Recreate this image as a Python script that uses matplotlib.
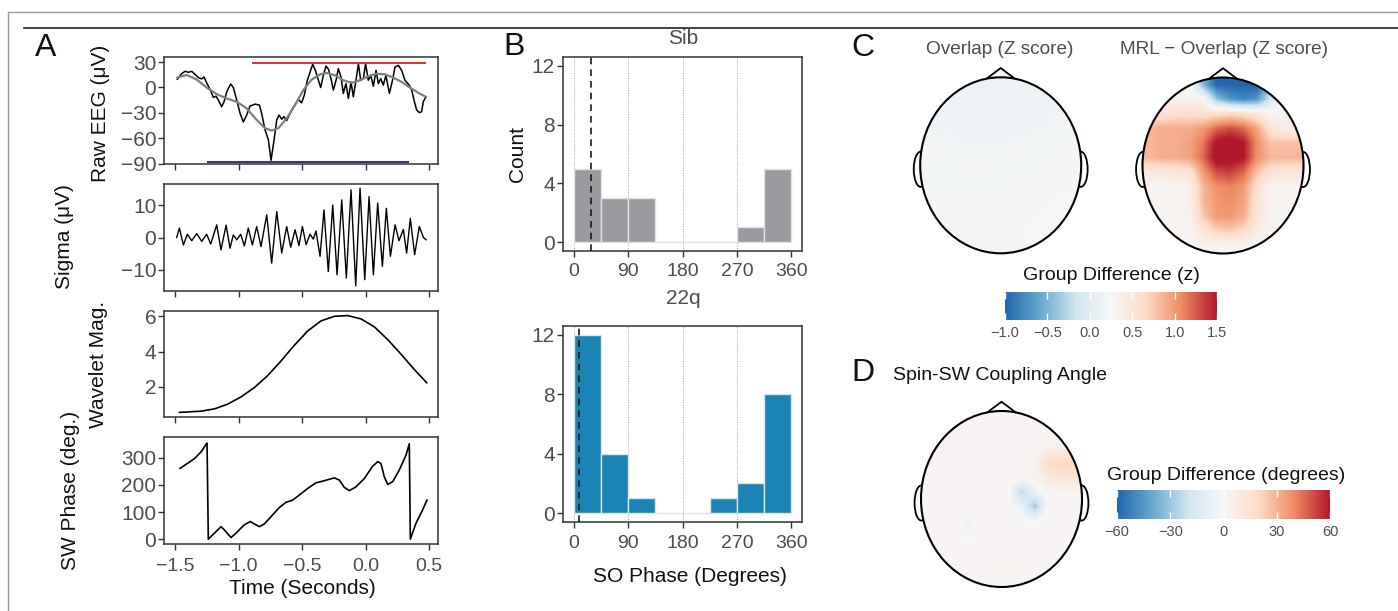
import matplotlib
matplotlib.use("Agg")
import numpy as np
import matplotlib.pyplot as plt
import matplotlib.cm as cm
from matplotlib.colors import LinearSegmentedColormap, Normalize
from matplotlib.lines import Line2D
from matplotlib.patches import Circle, Ellipse, Polygon

plt.rcParams['font.family'] = ['Liberation Sans', 'DejaVu Sans']

W, H = 1398, 611
GREY = '#4d4d4d'
DARK = '#333333'

# ---------------- panel A: example event ----------------
eeg_t = [-1.482, -1.448, -1.421, -1.395, -1.369, -1.343, -1.316, -1.290, -1.272, -1.251,
         -1.224, -1.198, -1.177, -1.159, -1.133, -1.114, -1.093, -1.062, -1.041, -1.014,
         -0.988, -0.962, -0.936, -0.909, -0.870, -0.836, -0.818, -0.791, -0.765, -0.744,
         -0.720, -0.699, -0.681, -0.660, -0.642, -0.621, -0.594, -0.563, -0.529, -0.503,
         -0.482, -0.458, -0.432, -0.416, -0.395, -0.371, -0.353, -0.332, -0.311, -0.290,
         -0.272, -0.253, -0.232, -0.214, -0.193, -0.175, -0.154, -0.135, -0.114, -0.096,
         -0.075, -0.056, -0.038, -0.017, 0.001, 0.022, 0.041, 0.062, 0.083, 0.101,
         0.120, 0.140, 0.161, 0.188, 0.214, 0.232, 0.259, 0.285, 0.311, 0.345,
         0.364, 0.382, 0.403, 0.424, 0.442, 0.455, 0.476]
eeg_uv = [9.7, 16.3, 19.1, 17.9, 19.1, 15.5, 11.6, 10.1, 12.4, 5.4,
          -2.5, -11.8, -10.3, -15.0, -22.8, -16.9, -5.2, 4.2, -0.1, -15.0,
          -30.6, -40.8, -32.6, -22.0, -19.7, -20.8, -30.6, -50.2, -61.9, -86.1,
          -61.9, -38.4, -32.6, -37.6, -34.5, -39.2, -30.6, -22.0, -14.2, -18.1,
          -9.1, 8.5, 20.2, 27.3, 20.2, 8.5, -0.1, 14.4, 25.3, 21.0,
          10.5, -3.2, 8.5, 22.2, 12.4, -7.1, 4.6, -13.0, 6.5, -11.1,
          8.5, 28.0, 8.5, 10.5, 28.0, 8.5, 14.4, 1.5, 20.2, 4.6,
          10.5, 2.6, 14.4, -7.1, 9.3, 24.1, 26.1, 20.2, 8.5, 2.6,
          -3.2, -15.0, -26.7, -29.8, -28.7, -16.9, -11.1]

slow_t = [-1.482, -1.408, -1.329, -1.251, -1.172, -1.093, -1.014, -0.936, -0.857, -0.791,
          -0.739, -0.686, -0.621, -0.555, -0.490, -0.424, -0.358, -0.306, -0.240, -0.175,
          -0.109, -0.043, 0.022, 0.088, 0.154, 0.219, 0.285, 0.350, 0.416, 0.476]
slow_uv = [11.6, 14.8, 9.3, -0.1, -7.9, -13.0, -16.9, -24.7, -38.4, -48.2,
           -50.9, -48.2, -36.5, -20.8, -3.2, 9.3, 15.5, 17.1, 14.4, 8.5,
           5.4, 8.5, 13.2, 16.3, 15.5, 11.6, 6.5, -0.1, -6.4, -11.1]

hi_level, hi_span = 28.5, (-0.89, 0.475)
lo_level, lo_span = -88.0, (-1.25, 0.345)

sigma_t = [-1.487, -1.466, -1.434, -1.403, -1.369, -1.329, -1.290, -1.251, -1.219, -1.172,
           -1.138, -1.098, -1.067, -1.041, -1.014, -0.983, -0.954, -0.923, -0.891, -0.857,
           -0.823, -0.778, -0.739, -0.699, -0.660, -0.621, -0.589, -0.555, -0.524, -0.497,
           -0.468, -0.437, -0.411, -0.390, -0.358, -0.327, -0.293, -0.258, -0.224, -0.187,
           -0.151, -0.114, -0.077, -0.043, -0.006, 0.028, 0.062, 0.096, 0.133, 0.164,
           0.196, 0.233, 0.264, 0.298, 0.324, 0.353, 0.387, 0.424, 0.456, 0.477]
sigma_uv = [0.0, 2.9, -2.3, 1.0, -1.0, 1.2, -1.2, 1.0, -2.0, 3.9,
            -3.8, 3.8, -3.3, 0.8, -0.7, 1.0, -2.6, 2.9, -2.3, 3.4,
            -2.8, 7.0, -7.9, 8.0, -4.8, 3.4, -3.0, 2.4, -2.5, 3.4,
            -2.2, 1.0, -0.5, 2.0, -5.8, 8.5, -10.5, 10.0, -11.5, 11.6,
            -12.5, 14.7, -14.9, 15.2, -13.0, 12.6, -11.5, 10.6, -8.9, 9.0,
            -5.8, 3.9, -1.0, 2.5, -4.8, 5.9, -5.3, 3.4, 0.0, -0.7]

wav_t = [-1.466, -1.295, -1.190, -1.085, -0.980, -0.875, -0.770, -0.665, -0.560, -0.455,
         -0.350, -0.245, -0.140, -0.035, 0.070, 0.175, 0.280, 0.385, 0.482]
wav_mag = [0.55, 0.62, 0.75, 1.02, 1.43, 1.96, 2.64, 3.47, 4.36, 5.17,
           5.74, 6.00, 6.04, 5.85, 5.40, 4.68, 3.85, 2.98, 2.23]

phase_t = [-1.461, -1.348, -1.295, -1.248, -1.238, -1.190, -1.138, -1.112, -1.059, -1.020,
           -0.954, -0.907, -0.875, -0.836, -0.797, -0.744, -0.678, -0.626, -0.573, -0.521,
           -0.455, -0.390, -0.337, -0.285, -0.245, -0.206, -0.167, -0.127, -0.075, -0.009,
           0.056, 0.096, 0.122, 0.148, 0.175, 0.214, 0.266, 0.319, 0.345, 0.353,
           0.398, 0.450, 0.484]
phase_deg = [261, 297, 322, 355, 0, 22, 46, 34, 6, 22,
             53, 65, 56, 46, 56, 83, 117, 136, 144, 163,
             187, 208, 214, 221, 226, 218, 191, 179, 193, 224,
             269, 286, 279, 230, 202, 212, 255, 310, 352, 0,
             59, 108, 144]

time_ticks = [-1.5, -1.0, -0.5, 0.0, 0.5]

# ---------------- panel B: SO phase histograms ----------------
bin_edges = [0, 45, 90, 135, 180, 225, 270, 315, 360]
sib_counts = [5, 3, 3, 0, 0, 0, 1, 5]
q22_counts = [12, 4, 1, 0, 0, 1, 2, 8]
sib_mean = 28
q22_mean = 8
phase_ticks = [0, 90, 180, 270, 360]
count_ticks = [0, 4, 8, 12]

# ---------------- panels C/D: topographies (coarse grid, top row = front) ----------------
overlap_z = [[0.16, 0.14, 0.14, 0.17],
             [0.19, 0.18, 0.19, 0.21],
             [0.21, 0.21, 0.22, 0.23],
             [0.23, 0.22, 0.23, 0.24]]

mrl_z = [[0.3, 0.3, 0.3, 0.3, -0.5, -1.0, -1.0, -1.0, -1.0, -0.4, 0.3, 0.3],
         [0.3, 0.3, 0.3, 0.3, 0.3, -0.4, -0.7, -0.8, -0.7, -0.1, 0.3, 0.3],
         [0.55, 0.55, 0.6, 0.6, 0.55, 0.6, 0.65, 0.6, 0.45, 0.3, 0.3, 0.3],
         [0.85, 0.9, 0.9, 0.9, 1.0, 1.2, 1.3, 1.2, 0.95, 0.55, 0.4, 0.4],
         [0.85, 0.9, 0.9, 0.95, 1.15, 1.55, 1.6, 1.5, 1.05, 0.8, 0.8, 0.8],
         [0.85, 0.9, 0.9, 0.95, 1.2, 1.6, 1.6, 1.5, 1.05, 0.85, 0.85, 0.85],
         [0.45, 0.45, 0.5, 0.55, 1.0, 1.3, 1.35, 1.2, 0.8, 0.55, 0.5, 0.5],
         [0.3, 0.3, 0.3, 0.35, 0.85, 1.05, 1.1, 1.0, 0.6, 0.3, 0.3, 0.3],
         [0.3, 0.3, 0.3, 0.35, 0.85, 1.0, 1.05, 0.95, 0.55, 0.3, 0.3, 0.3],
         [0.3, 0.3, 0.3, 0.3, 0.75, 1.0, 1.0, 0.9, 0.5, 0.3, 0.3, 0.3],
         [0.3, 0.3, 0.3, 0.3, 0.5, 0.7, 0.75, 0.65, 0.4, 0.3, 0.3, 0.3],
         [0.3, 0.3, 0.3, 0.3, 0.3, 0.3, 0.3, 0.3, 0.3, 0.3, 0.3, 0.3]]

angle_deg = [[1.5, 1.5, 1.5, 1.5, 1.5, 1.5, 1.5, 1.5, 1.5, 1.5, 1.5, 1.5],
             [1.5, 1.5, 1.5, 1.5, 1.5, 1.5, 1.5, 1.5, 1.5, 1.5, 1.5, 1.5],
             [1.5, 1.5, 1.5, 1.5, 1.5, 1.5, 1.5, 1.5, 1.5, 4, 6, 6],
             [1.5, 1.5, 1.5, 1.5, 1.5, 1.5, 1.5, 2, 4, 18, 20, 20],
             [1.5, 1.5, 1.5, 1.5, 1.5, 1.5, 1.5, 2, 3, 10, 14, 14],
             [1.5, 1.5, 1.5, 1.5, 1.5, 1.5, 1.5, -24, -6, 2, 2, 2],
             [1.5, 1.5, 1.5, 1.5, 1.5, 1.5, 1.5, -6, -30, 1.5, 1.5, 1.5],
             [1.5, 1.5, 1.5, -4, 1.5, 1.5, 1.5, 1.5, -1, 1.5, 1.5, 1.5],
             [1.5, 1.5, 1.5, -2, 1.5, 1.5, 1.5, 1.5, 1.5, 1.5, 1.5, 1.5],
             [1.5, 1.5, 1.5, 1.5, 1.5, 1.5, 1.5, 1.5, 1.5, 1.5, 1.5, 1.5],
             [1.5, 1.5, 1.5, 1.5, 1.5, 1.5, 4, 1.5, 1.5, 1.5, 1.5, 1.5],
             [1.5, 1.5, 1.5, 1.5, 1.5, 1.5, 1.5, 1.5, 1.5, 1.5, 1.5, 1.5]]

z_ticks = [-1.0, -0.5, 0.0, 0.5, 1.0, 1.5]
deg_ticks = [-60, -30, 0, 30, 60]

brewer_rdbu = ['#2166AC', '#67A9CF', '#D1E5F0', '#F7F7F7', '#FDDBC7', '#EF8A62', '#B2182B']
cmap = LinearSegmentedColormap.from_list('rdbu7', brewer_rdbu)
norm_z = Normalize(-1.0, 1.5)
norm_deg = Normalize(-60, 60)

fig = plt.figure(figsize=(W / 100, H / 100), dpi=100)


def box(l, t, r, b):
    return [l / W, 1 - b / H, (r - l) / W, (b - t) / H]


def label(x, y, s, **kw):
    kw.setdefault('ha', 'center')
    kw.setdefault('va', 'center')
    kw.setdefault('color', '#111111')
    fig.text(x / W, 1 - y / H, s, **kw)


def frame(ax, xpad=5, ypad=1.5):
    for sp in ax.spines.values():
        sp.set_color(DARK)
        sp.set_linewidth(1.1)
    ax.tick_params(direction='out', length=4, width=1, color=DARK,
                   labelcolor=GREY, labelsize=14)
    ax.tick_params(axis='x', pad=xpad)
    ax.tick_params(axis='y', pad=ypad, labelsize=15)


# outer frame of the figure page
fig.add_artist(Line2D([8 / W, 8 / W], [1 - 12 / H, 0], color='#9a9a9a', lw=1))
fig.add_artist(Line2D([8 / W, 1], [1 - 12 / H, 1 - 12 / H], color='#9a9a9a', lw=1))
fig.add_artist(Line2D([24 / W, 1], [1 - 28 / H, 1 - 28 / H], color='#222222', lw=1.2))

# ---------------- A ----------------
rows = [(57, 164), (184, 291), (311, 417), (437, 544)]
axs = [fig.add_axes(box(164, t, 438, b)) for t, b in rows]
for ax in axs:
    frame(ax, xpad=6)
    ax.set_xlim(-1.587, 0.571)
    ax.set_xticks(time_ticks)
for ax in axs[:3]:
    ax.tick_params(axis='x', labelbottom=False)

ax = axs[0]
ax.plot(eeg_t, eeg_uv, color='black', lw=1.1)
ax.plot(slow_t, slow_uv, color='#7f7f7f', lw=1.6)
ax.hlines(hi_level, *hi_span, color='#e41a1c', lw=1.3)
ax.hlines(lo_level, *lo_span, color='#1f1f8c', lw=1.3)
ax.set_ylim(-90.5, 36)
ax.set_yticks([-90, -60, -30, 0, 30])

ax = axs[1]
ax.plot(sigma_t, sigma_uv, color='black', lw=1.0)
ax.set_ylim(-16.5, 16.5)
ax.set_yticks([-10, 0, 10])

ax = axs[2]
ax.plot(wav_t, wav_mag, color='black', lw=1.2)
ax.set_ylim(0.29, 6.3)
ax.set_yticks([2, 4, 6])

ax = axs[3]
ax.plot(phase_t, phase_deg, color='black', lw=1.2)
ax.set_ylim(-18, 377)
ax.set_yticks([0, 100, 200, 300])

label(100, 113, 'Raw EEG (μV)', rotation=90, fontsize=15)
label(64, 237, 'Sigma (μV)', rotation=90, fontsize=15)
label(99, 364, 'Wavelet Mag.', rotation=90, fontsize=15)
label(71, 490, 'SW Phase (deg.)', rotation=90, fontsize=15)
label(302, 588, 'Time (Seconds)', fontsize=15)

# ---------------- B ----------------
specs = [(57, 251, sib_counts, '#9a9a9f', sib_mean, 'Sib', 38),
         (326, 522, q22_counts, '#1a84b5', q22_mean, '22q', 299)]
for t, b, counts, col, mean, name, ty in specs:
    ax = fig.add_axes(box(563, t, 802, b))
    frame(ax, xpad=5, ypad=2)
    ax.set_xlim(-18, 378)
    ax.set_ylim(-0.6, 12.6)
    ax.set_xticks(phase_ticks)
    ax.set_yticks(count_ticks)
    for v in phase_ticks[:-1]:
        ax.axvline(v, color='#a0a0a0', lw=0.7, ls=(0, (1, 1.5)), zorder=0)
    ax.bar(bin_edges[:-1], counts, width=np.diff(bin_edges), align='edge',
           color=col, edgecolor='#e2e2e2', lw=1, zorder=1)
    ax.axvline(mean, color='#1a1a1a', lw=1.2, ls=(0, (4, 3)), zorder=3)
    label(683, ty, name, color=GREY, fontsize=15)

label(518, 154, 'Count', rotation=90, fontsize=15)
label(690, 577, 'SO Phase (Degrees)', fontsize=15)


# ---------------- C / D ----------------
def topo(cx, cy, grid, norm):
    rx, ry, m = 80.5, 88.0, 1.16
    ax = fig.add_axes(box(cx - m * rx, cy - m * ry, cx + m * rx, cy + m * ry))
    for s in (-1, 1):
        ax.add_patch(Ellipse((s * 0.995, -0.045), 0.17, 0.4, fill=False,
                             ec='black', lw=1.3, zorder=1))
    im = ax.imshow(grid, extent=(-1, 1, -1, 1), cmap=cmap, norm=norm,
                   interpolation='bilinear', aspect='auto', zorder=2)
    im.set_clip_path(Circle((0, 0), 1, transform=ax.transData))
    ax.add_patch(Circle((0, 0), 1, fill=False, ec='black', lw=1.5, zorder=3))
    ax.add_patch(Polygon([(-0.175, 0.985), (0, 1.105), (0.175, 0.985)], closed=False,
                         fill=False, ec='black', lw=1.3, zorder=3))
    ax.set_xlim(-m, m)
    ax.set_ylim(-m, m)
    ax.axis('off')


def cbar(l, t, r, b, norm, ticks):
    cax = fig.add_axes(box(l, t, r, b))
    cb = fig.colorbar(cm.ScalarMappable(norm=norm, cmap=cmap), cax=cax,
                      orientation='horizontal', ticks=ticks)
    cb.outline.set_visible(False)
    cax.tick_params(direction='in', length=5, width=1, color='white', top=True,
                    bottom=True, labelsize=10.5, labelcolor=GREY, pad=4)


topo(1000.7, 165.3, overlap_z, norm_z)
topo(1223.0, 165.5, mrl_z, norm_z)
topo(1001.5, 499.0, angle_deg, norm_deg)

label(1000, 49, 'Overlap (Z score)', color=GREY, fontsize=13.7)
label(1224, 49, 'MRL \u2212 Overlap (Z score)', color=GREY, fontsize=13.7)
label(1111, 275, 'Group Difference (z)', fontsize=14)
cbar(1005, 292, 1217, 320, norm_z, z_ticks)

label(893, 376, 'Spin-SW Coupling Angle', ha='left', fontsize=14)
label(1226, 476, 'Group Difference (degrees)', fontsize=14)
cbar(1117, 490, 1330, 519, norm_deg, deg_ticks)

# panel letters
for x, y, s in [(35, 48, 'A'), (503, 47, 'B'), (851, 48, 'C'), (851, 373, 'D')]:
    label(x, y, s, ha='left', fontsize=23)

fig.savefig('out.png', dpi=100)
